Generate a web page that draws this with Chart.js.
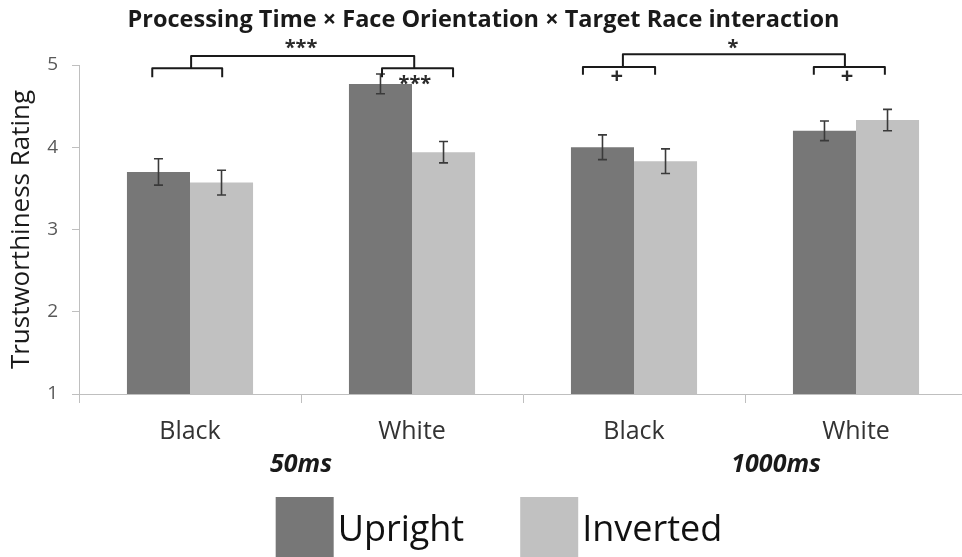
<!DOCTYPE html>
<html>
<head>
<meta charset="utf-8">
<script src="https://cdn.jsdelivr.net/npm/chart.js@4.4.1/dist/chart.umd.min.js"></script>
<style>
html, body { margin: 0; padding: 0; background: #fff; overflow: hidden; }
#wrap { width: 975px; height: 557px; }
</style>
</head>
<body>
<div id="wrap"><canvas id="chart"></canvas></div>
<script>
const categories = ["Black", "White", "Black", "White"];
const uprightValues = [3.70, 4.77, 4.00, 4.20];
const invertedValues = [3.57, 3.94, 3.83, 4.33];
const uprightErrors = [0.16, 0.12, 0.15, 0.12];
const invertedErrors = [0.15, 0.13, 0.15, 0.13];
const yTicks = [1, 2, 3, 4, 5];
const groupLabels = ["50ms", "1000ms"];
const seriesLabels = ["Upright", "Inverted"];

const FONT = "'Open Sans', sans-serif";

// where the significance marks sit (category index + offset in category widths, rating)
const brackets = [
    { c0: 0, o0: -0.17, c1: 0, o1: 0.145, y: 4.96, tip: 4.85 },
    { c0: 1, o0: -0.135, c1: 1, o1: 0.185, y: 4.96, tip: 4.85 },
    { c0: 2, o0: -0.23, c1: 2, o1: 0.095, y: 4.975, tip: 4.88 },
    { c0: 3, o0: -0.19, c1: 3, o1: 0.13, y: 4.975, tip: 4.88 },
    { c0: 0, o0: 0.005, c1: 1, o1: 0.01, y: 5.11, tip: 4.96 },
    { c0: 2, o0: -0.05, c1: 3, o1: -0.05, y: 5.13, tip: 4.975 }
];
const marks = [
    { text: "***", c: 0, o: 0.5, y: 5.2 },
    { text: "***", c: 1, o: 0.013, y: 4.76 },
    { text: "+", c: 2, o: -0.077, y: 4.86 },
    { text: "+", c: 3, o: -0.04, y: 4.86 },
    { text: "*", c: 2, o: 0.446, y: 5.2 }
];
const groupLabelPos = [0.5, 2.64];

const overlay = {
    id: "overlay",
    afterDatasetsDraw(chart) {
        const ctx = chart.ctx;
        const y = chart.scales.y;
        const errs = [uprightErrors, invertedErrors];
        ctx.save();
        ctx.strokeStyle = "#3a3a3a";
        ctx.lineWidth = 1.6;
        chart.data.datasets.forEach((ds, di) => {
            chart.getDatasetMeta(di).data.forEach((bar, i) => {
                const top = y.getPixelForValue(ds.data[i] + errs[di][i]);
                const bot = y.getPixelForValue(ds.data[i] - errs[di][i]);
                ctx.beginPath();
                ctx.moveTo(bar.x, top); ctx.lineTo(bar.x, bot);
                ctx.moveTo(bar.x - 4.5, top); ctx.lineTo(bar.x + 4.5, top);
                ctx.moveTo(bar.x - 4.5, bot); ctx.lineTo(bar.x + 4.5, bot);
                ctx.stroke();
            });
        });
        ctx.restore();
    },
    afterDraw(chart) {
        const ctx = chart.ctx;
        const x = chart.scales.x, y = chart.scales.y;
        const w = x.getPixelForValue(1) - x.getPixelForValue(0);
        const px = (c, o) => x.getPixelForValue(c) + o * w;

        ctx.save();
        ctx.strokeStyle = "#1a1a1a";
        ctx.lineWidth = 2;
        ctx.lineJoin = "round";
        brackets.forEach(b => {
            const x0 = px(b.c0, b.o0), x1 = px(b.c1, b.o1);
            const yy = y.getPixelForValue(b.y), yt = y.getPixelForValue(b.tip);
            ctx.beginPath();
            ctx.moveTo(x0, yt); ctx.lineTo(x0, yy); ctx.lineTo(x1, yy); ctx.lineTo(x1, yt);
            ctx.stroke();
        });

        ctx.fillStyle = "#2a2a2a";
        ctx.textAlign = "center";
        ctx.textBaseline = "middle";
        marks.forEach(m => {
            ctx.font = (m.text === "+" ? "bold 22px " : "bold 20px ") + FONT;
            ctx.fillText(m.text, px(m.c, m.o), y.getPixelForValue(m.y));
        });

        ctx.fillStyle = "#1a1a1a";
        ctx.font = "italic bold 25px " + FONT;
        groupLabels.forEach((g, i) => {
            ctx.fillText(g, px(0, groupLabelPos[i]), 465);
        });

        // legend
        ctx.font = "36px " + FONT;
        ctx.textAlign = "left";
        ctx.textBaseline = "alphabetic";
        const box = 58, gap = 4, itemGap = 56;
        const widths = chart.data.datasets.map(ds => box + gap + ctx.measureText(ds.label).width);
        const total = widths.reduce((a, b) => a + b, 0) + itemGap;
        let lx = 499 - total / 2;
        chart.data.datasets.forEach((ds, i) => {
            ctx.fillStyle = ds.backgroundColor;
            ctx.fillRect(lx, 497, box, 60);
            ctx.fillStyle = "#111";
            ctx.fillText(ds.label, lx + box + gap, 541);
            lx += widths[i] + itemGap;
        });
        ctx.restore();
    }
};

new Chart(document.getElementById("chart"), {
    type: "bar",
    data: {
        labels: categories,
        datasets: [
            { label: seriesLabels[0], data: uprightValues, backgroundColor: "#777777",
              categoryPercentage: 0.568, barPercentage: 1.0 },
            { label: seriesLabels[1], data: invertedValues, backgroundColor: "#c1c1c1",
              categoryPercentage: 0.568, barPercentage: 1.0 }
        ]
    },
    options: {
        responsive: true,
        maintainAspectRatio: false,
        animation: false,
        layout: { padding: { top: 0, right: 8, bottom: 0, left: 0 } },
        plugins: {
            legend: { display: false },
            tooltip: { enabled: false },
            title: {
                display: true,
                text: "Processing Time × Face Orientation × Target Race interaction",
                font: { family: FONT, size: 23.5, weight: "bold" },
                color: "#1a1a1a",
                padding: { top: 6, bottom: 30.8 }
            }
        },
        scales: {
            x: {
                grid: { drawOnChartArea: false, tickLength: 9, color: "#bfbfbf", offset: true },
                border: { color: "#bfbfbf" },
                ticks: { font: { family: FONT, size: 25 }, color: "#333", padding: 14 },
                afterFit: s => { s.height = 163; }
            },
            y: {
                min: 1,
                max: 5,
                afterBuildTicks: s => { s.ticks = yTicks.map(v => ({ value: v })); },
                ticks: { font: { family: FONT, size: 19 }, color: "#595959", padding: 14 },
                grid: { drawOnChartArea: false, tickLength: 7, color: "#bfbfbf" },
                border: { color: "#bfbfbf" },
                title: {
                    display: true,
                    text: "Trustworthiness Rating",
                    font: { family: FONT, size: 26 },
                    color: "#1a1a1a",
                    padding: { top: 6, bottom: 0 }
                },
                afterFit: s => { s.width = 79; }
            }
        }
    },
    plugins: [overlay]
});
</script>
</body>
</html>
